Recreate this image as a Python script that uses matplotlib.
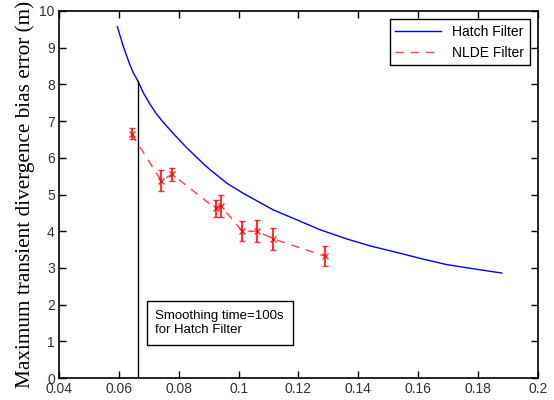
import matplotlib
matplotlib.use("Agg")
import matplotlib.pyplot as plt

# Hatch filter curve
hatch_x = [0.0595, 0.0615, 0.0637, 0.0648, 0.0665, 0.0681, 0.0704, 0.0726, 0.0748,
           0.0782, 0.0826, 0.0882, 0.0904, 0.0938, 0.0960, 0.1016, 0.1116, 0.1183,
           0.1272, 0.1361, 0.1439, 0.1539, 0.1606, 0.1695, 0.1773, 0.1879]
hatch_y = [9.57, 9.03, 8.53, 8.32, 8.07, 7.78, 7.46, 7.19, 6.97,
           6.66, 6.28, 5.84, 5.68, 5.46, 5.31, 5.03, 4.58, 4.35,
           4.04, 3.79, 3.60, 3.40, 3.26, 3.09, 2.99, 2.86]

# NLDE filter points with error bars
nlde_x = [0.0643, 0.0741, 0.0778, 0.0923, 0.0941, 0.1012, 0.1062, 0.1116, 0.1288]
nlde_y = [6.65, 5.38, 5.55, 4.62, 4.69, 4.00, 4.00, 3.79, 3.32]
nlde_err = [0.15, 0.29, 0.17, 0.24, 0.30, 0.27, 0.30, 0.30, 0.28]

smooth_x = 0.0665
smooth_top = 8.08

fig = plt.figure(figsize=(5.54, 4.0), dpi=100)
ax = fig.add_axes([0.1065, 0.055, 0.8645, 0.9175])

ax.plot(hatch_x, hatch_y, color="blue", lw=1.0, label="Hatch Filter")
ax.plot(nlde_x, nlde_y, color="red", lw=1.0, ls=(0, (6, 5)), alpha=0.75, label="NLDE Filter")
ax.errorbar(nlde_x, nlde_y, yerr=nlde_err, fmt="x", color="red", ms=4, mew=1.0,
            elinewidth=1.5, capsize=2.5, capthick=1.2, alpha=0.8)

ax.plot([smooth_x, smooth_x], [0, smooth_top], color="black", lw=1.0)

ax.text(0.0722, 1.5, "Smoothing time=100s\nfor Hatch Filter", fontsize=9.5,
        family="Liberation Sans", va="center", ha="left", linespacing=1.25,
        bbox=dict(boxstyle="square,pad=0.65", fc="white", ec="black", lw=1.0))

ax.set_xlim(0.04, 0.2)
ax.set_ylim(0, 10)
ax.set_xticks([0.04, 0.06, 0.08, 0.1, 0.12, 0.14, 0.16, 0.18, 0.2])
ax.set_xticklabels(["0.04", "0.06", "0.08", "0.1", "0.12", "0.14", "0.16", "0.18", "0.2"])
ax.set_yticks(range(0, 11))
ax.tick_params(direction="in", top=True, right=True, length=5, width=1,
               labelsize=10, labelcolor="#333333", pad=3)
for lab in ax.get_xticklabels() + ax.get_yticklabels():
    lab.set_family("Liberation Sans")
for sp in ax.spines.values():
    sp.set_linewidth(1.2)

ax.set_ylabel("Maximum transient divergence bias error (m)", family="Liberation Serif",
              fontsize=15.3, labelpad=3)

leg = ax.legend(loc="upper right", prop={"family": "Liberation Sans", "size": 10},
                fancybox=False, framealpha=1, edgecolor="black", handlelength=3.3,
                borderaxespad=0.6)
leg.get_frame().set_linewidth(1.0)

fig.savefig("out.png", dpi=100)
